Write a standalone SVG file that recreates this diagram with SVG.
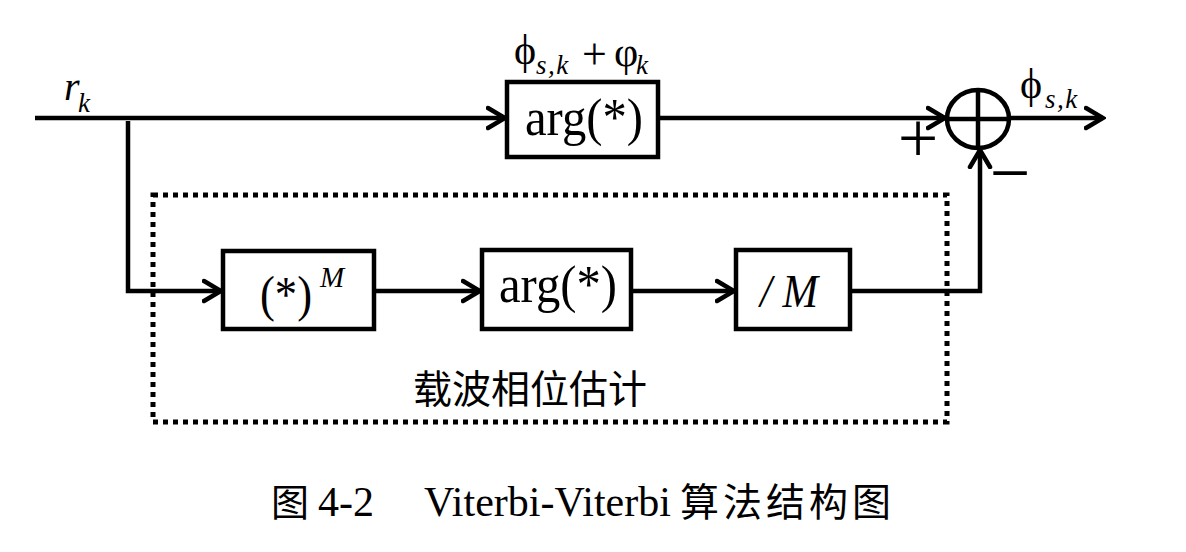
<svg xmlns="http://www.w3.org/2000/svg" width="1186" height="552" viewBox="0 0 1186 552">
<style>
.box{fill:#fff;stroke:#000;stroke-width:4.5}
.ln{fill:none;stroke:#000;stroke-width:4.5}
.t{font-family:"Liberation Serif","Times New Roman",serif;fill:#000}
.i{font-style:italic}
.cjk{font-family:"Liberation Serif","Noto Sans CJK SC",sans-serif;fill:#000}
</style>
<defs>
<marker id="arr" markerUnits="userSpaceOnUse" viewBox="0 0 22 26" markerWidth="22" markerHeight="26" refX="19" refY="13" orient="auto">
<path d="M2,3 L19,13 L2,23" fill="none" stroke="#000" stroke-width="4.5" stroke-linecap="round" stroke-linejoin="miter"/>
</marker>
</defs>
<rect width="1186" height="552" fill="#fff"/>
<g id="connectors">
<line class="ln" x1="35" y1="118" x2="505" y2="118" marker-end="url(#arr)"/>
<line class="ln" x1="658" y1="118" x2="945" y2="118" marker-end="url(#arr)"/>
<line class="ln" x1="1009" y1="118" x2="1103" y2="118" marker-end="url(#arr)"/>
<polyline class="ln" points="128,121 128,291 221,291" marker-end="url(#arr)"/>
<line class="ln" x1="374" y1="291" x2="480" y2="291" marker-end="url(#arr)"/>
<line class="ln" x1="631" y1="291" x2="734" y2="291" marker-end="url(#arr)"/>
<polyline class="ln" points="850,291 980,291 980,150" marker-end="url(#arr)"/>
</g>
<g id="estimator-frame">
<rect x="153" y="195" width="794" height="227" fill="none" stroke="#000" stroke-width="5" stroke-dasharray="5 5"/>
<text class="cjk" x="530" y="403" font-size="39" text-anchor="middle">载波相位估计</text>
</g>
<g id="input-label">
<text class="t i" x="64" y="100" font-size="40">r</text>
<text class="t i" x="78" y="112" font-size="27">k</text>
</g>
<g id="arg-top">
<rect class="box" x="507" y="82" width="151" height="75"/>
<text class="t" x="525" y="135" font-size="52" textLength="118" lengthAdjust="spacingAndGlyphs">arg(*)</text>
<text class="t" x="514" y="64" font-size="42">ϕ</text>
<text class="t i" x="536" y="74" font-size="27" letter-spacing="1.5">s,k</text>
<text class="t" x="582" y="69" font-size="44">+</text>
<text class="t" x="614" y="66" font-size="42">φ</text>
<text class="t i" x="636" y="74" font-size="27">k</text>
</g>
<g id="adder">
<ellipse cx="978" cy="119" rx="31" ry="29" fill="#fff" stroke="#000" stroke-width="4.5"/>
<line class="ln" x1="947" y1="119" x2="1009" y2="119"/>
<line class="ln" x1="978" y1="90" x2="978" y2="148"/>
<text class="t" x="918" y="162" font-size="72" text-anchor="middle">+</text>
<text class="t" x="1010" y="197" font-size="72" text-anchor="middle">−</text>
</g>
<g id="output-label">
<text class="t" x="1020" y="98" font-size="42">ϕ</text>
<text class="t i" x="1045" y="108" font-size="27" letter-spacing="1.5">s,k</text>
</g>
<g id="power-M">
<rect class="box" x="223" y="251" width="151" height="78"/>
<text class="t" x="260" y="311" font-size="50" textLength="52" lengthAdjust="spacingAndGlyphs">(*)</text>
<text class="t i" x="320" y="287" font-size="29">M</text>
</g>
<g id="arg-bottom">
<rect class="box" x="482" y="250" width="149" height="79"/>
<text class="t" x="499" y="302" font-size="52" textLength="118" lengthAdjust="spacingAndGlyphs">arg(*)</text>
</g>
<g id="div-M">
<rect class="box" x="736" y="250" width="114" height="79"/>
<text class="t i" x="760" y="307" font-size="46" textLength="58" lengthAdjust="spacingAndGlyphs">/ M</text>
</g>
<g id="caption">
<text class="cjk" x="271" y="516" font-size="38">图</text>
<text class="t" x="318" y="516" font-size="42">4-2</text>
<text class="t" x="424" y="516" font-size="42">Viterbi-Viterbi</text>
<text class="cjk" x="680" y="516" font-size="39" letter-spacing="4">算法结构图</text>
</g>
</svg>
